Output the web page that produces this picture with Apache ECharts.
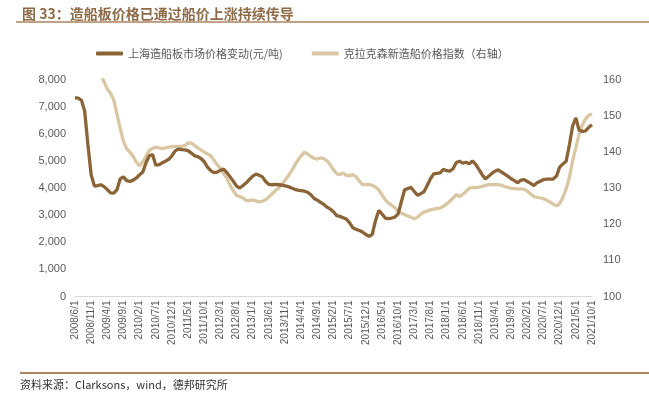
<!DOCTYPE html>
<html><head><meta charset="utf-8">
<script src="https://cdn.jsdelivr.net/npm/echarts@6/dist/echarts.min.js"></script>
<style>html,body{margin:0;padding:0;background:#fff;}#c{width:649px;height:399px;}</style>
</head><body><div id="c"></div>
<script>
// Monthly categories 2008/6/1 .. 2021/10/1
const startYear = 2008, startMonth = 6, monthCount = 161;
const categories = [];
for (let k = 0; k < monthCount; k++) {
  const m = startMonth - 1 + k;
  categories.push((startYear + Math.floor(m / 12)) + '/' + (m % 12 + 1) + '/1');
}
const seriesNames = ['上海造船板市场价格变动(元/吨)', '克拉克森新造船价格指数（右轴）'];
// 上海造船板市场价格 (元/吨)
const plateValues = [
7340,7330,7250,6850,5600,4500,4080,4100,4130,4060,3950,3830,3820,3950,4350,4420,4280,4250,4300,4380,
4500,4600,4950,5200,5250,4850,4870,4940,5000,5070,5200,5380,5450,5430,5420,5390,5300,5200,5170,5100,
4980,4780,4650,4580,4600,4660,4710,4580,4420,4260,4080,4010,4100,4200,4330,4450,4520,4480,4420,4250,
4140,4130,4140,4130,4120,4090,4060,4010,3960,3930,3910,3890,3850,3760,3620,3560,3480,3400,3300,3230,
3130,2990,2960,2910,2860,2720,2540,2480,2440,2380,2290,2220,2300,2800,3180,3050,2900,2880,2900,2930,
3050,3500,3940,3990,4030,3880,3740,3800,3870,4100,4350,4530,4550,4570,4700,4650,4630,4720,4950,5000,
4930,4960,4900,5010,4880,4700,4500,4340,4440,4550,4630,4680,4600,4520,4440,4350,4280,4200,4300,4320,
4250,4180,4100,4200,4260,4320,4340,4340,4340,4450,4780,4900,5000,5600,6300,6600,6150,6100,6120,6250,
6350];
// 克拉克森新造船价格指数
const indexValues = [
185,183,180,177,174,170,167,164,161.5,159.5,157.5,156.3,154.5,150.5,146.5,143,141,140,138.8,137.2,
136.2,137.3,139,140.5,141,141.4,141.2,141,141.2,141.4,141.5,141.6,141.6,141.6,141.8,142.6,142.5,141.9,141.2,140.6,
140,139.5,139,137.8,136.5,135.6,134,132.8,130.8,129.3,128,127.7,127.3,126.6,126.6,126.8,126.5,126.2,126.4,126.8,
127.6,128.4,129.3,130,131,132.2,133.4,134.8,136.4,137.8,139,140,139.5,138.8,138.3,138.1,138.4,138.2,137.6,136.5,
135.1,134,133.8,134.2,133.6,133.5,133.8,133.2,132,131,131,131.1,130.8,130.3,129.6,128.2,126.8,125.9,125.3,124.6,
123.6,123.1,122.7,122.3,122,121.5,122,122.8,123.4,123.7,124,124.2,124.4,124.5,125,125.6,126.4,127.3,128.2,127.7,
128.3,129.1,130,130.2,130.2,130.3,130.5,130.8,131,131,131,131,130.8,130.5,130.2,130,129.9,129.8,129.8,129.7,
129.2,128.4,127.7,127.5,127.3,127.1,126.7,126.2,125.6,125.1,125.8,127.5,129.8,133,137.5,141.2,145,147.5,149.2,150.2,
150.6];
const leftTicks = {min: 0, max: 8000, interval: 1000};
const rightTicks = {min: 100, max: 160, interval: 10};

const brown = '#8A6436', beige = '#D9C7A3';
const txt = '#595959';
const chart = echarts.init(document.getElementById('c'));
chart.setOption({
  animation: false,
  backgroundColor: '#fff',
  title: {
    text: '图 33：造船板价格已通过船价上涨持续传导',
    left: 17, top: 2,
    textStyle: {fontSize: 14, fontWeight: 'bold', color: '#8E6B47', fontFamily: 'Noto Sans CJK SC'}
  },
  graphic: [
    {type: 'line', shape: {x1: 16, y1: 22, x2: 649, y2: 22}, style: {stroke: '#A98560', lineWidth: 1.5}},
    {type: 'line', shape: {x1: 20, y1: 373, x2: 649, y2: 373}, style: {stroke: '#A98560', lineWidth: 2}},
    {type: 'text', left: 20, top: 379, style: {text: '资料来源：Clarksons，wind，德邦研究所', fill: '#333', font: '11px "Noto Sans CJK SC", "Liberation Sans"'}}
  ],
  legend: {
    top: 43, left: 91,
    itemWidth: 27, itemHeight: 4, itemGap: 29,
    icon: 'roundRect',
    textStyle: {color: txt, fontSize: 11, fontFamily: 'Noto Sans CJK SC'},
    data: seriesNames
  },
  grid: {left: 75, right: 57, top: 80, bottom: 102.5, containLabel: false},
  xAxis: {
    type: 'category', data: categories, boundaryGap: false,
    axisLine: {lineStyle: {color: '#D9D9D9'}},
    axisTick: {show: false},
    axisLabel: {rotate: 90, interval: 4, fontSize: 10, color: txt, margin: 4, fontFamily: 'Liberation Sans'}
  },
  yAxis: [
    {type: 'value', min: leftTicks.min, max: leftTicks.max, interval: leftTicks.interval,
     splitLine: {show: false}, axisLine: {show: false}, axisTick: {show: false},
     axisLabel: {color: txt, fontSize: 11, margin: 9, fontFamily: 'Liberation Sans'}},
    {type: 'value', min: rightTicks.min, max: rightTicks.max, interval: rightTicks.interval,
     splitLine: {show: false}, axisLine: {show: false}, axisTick: {show: false},
     axisLabel: {color: txt, fontSize: 11, margin: 11, fontFamily: 'Liberation Sans'}}
  ],
  series: [
    {name: seriesNames[0], type: 'line', data: plateValues, yAxisIndex: 0, showSymbol: false, symbol: 'none',
     lineStyle: {color: brown, width: 3.3}, itemStyle: {color: brown}, z: 3, clip: true},
    {name: seriesNames[1], type: 'line', data: indexValues, yAxisIndex: 1, showSymbol: false, symbol: 'none',
     lineStyle: {color: beige, width: 3.3}, itemStyle: {color: beige}, z: 2, clip: true}
  ]
});
</script></body></html>
